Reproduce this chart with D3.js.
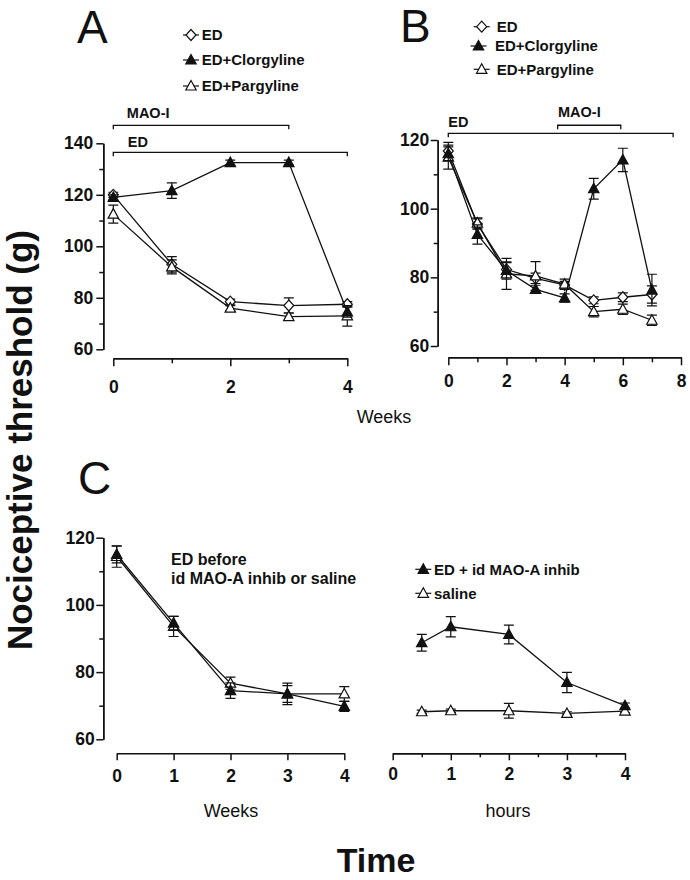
<!DOCTYPE html>
<html><head><meta charset="utf-8">
<script src="https://cdn.jsdelivr.net/npm/d3@7"></script>
<style>
body{margin:0;background:#fff;}
svg{display:block;font-family:"Liberation Sans",Arial,Helvetica,sans-serif;}
</style></head>
<body>
<svg id="chart" width="690" height="880"></svg>
<script>
// ---------- DATA ----------
// Panel A (weeks)
const weeksA = [0, 1, 2, 3, 4];
const edA = [120, 93, 78.5, 77, 77.5];
const edAErr = [1, 3, 1, 3, 1];
const clorgA = [119, 121.6, 132.5, 132.5, 74.5];
const clorgAErr = [1, 3, 1, 1, 2];
const pargA = [112.5, 92, 76, 72.7, 73];
const pargAErr = [3.5, 2.7, 1, 1.5, 4];
const yTicksA = [60, 80, 100, 120, 140];
const yMinorA = [70, 90, 110, 130];
const xTicksA = [0, 2, 4];
const xMinorA = [1, 3];

// Panel B (weeks)
const weeksB = [0, 1, 2, 3, 4, 5, 6, 7];
const edB = [116.8, 95.5, 82.3, 79.7, 77.8, 73.3, 74.2, 75];
const edBErr = [2.5, 1.5, 2, 1.5, 1, 1, 1.3, 2.5];
const clorgB = [116, 92.5, 82, 76.5, 74, 105.8, 114.2, 76.3];
const clorgBErr = [2, 2.8, 2.5, 1.2, 1.2, 3, 3.4, 4.6];
const pargB = [115, 95.8, 81, 80.4, 78, 70, 70.7, 67.5];
const pargBErr = [3.5, 1.5, 4.5, 4.2, 1.5, 1.5, 1.5, 1.5];
const yTicksB = [60, 80, 100, 120];
const yMinorB = [70, 90, 110];
const xTicksB = [0, 2, 4, 6, 8];
const xMinorB = [1, 3, 5, 7];

// Panel C left (weeks, ED before treatment)
const weeksC = [0, 1, 2, 3, 4];
const edMaoC = [115, 94.6, 74.5, 73.5, 69.8];
const edMaoCErr = [2.5, 2, 2.3, 2.5, 1.5];
const salineC = [114.4, 93.6, 76.7, 73.5, 73.5];
const salineCErr = [3.2, 3, 1.8, 3.2, 2.2];
const yTicksC = [60, 80, 100, 120];
const yMinorC = [70, 90, 110];
const xTicksC = [0, 1, 2, 3, 4];

// Panel C right (hours)
const hoursC = [0.5, 1, 2, 3, 4];
const edMaoH = [88.75, 93.5, 91.2, 76.9, 70];
const edMaoHErr = [2.5, 3, 2.8, 3, 0.8];
const salineH = [68.2, 68.5, 68.5, 67.7, 68.4];
const salineHErr = [0.5, 0.5, 2.2, 0.5, 0.5];
const xTicksH = [0, 1, 2, 3, 4];
const xMinorH = [0.5, 1.5, 2.5, 3.5];

// Legends / annotations
const legendA = ["ED", "ED+Clorgyline", "ED+Pargyline"];
const legendB = ["ED", "ED+Clorgyline", "ED+Pargyline"];
const legendC = ["ED + id MAO-A inhib", "saline"];
const bracketsA = [{label: "MAO-I", from: 0, to: 3, level: 147}, {label: "ED", from: 0, to: 4, level: 136.5}];
const bracketsB = [{label: "ED", from: 0, to: 7.73, level: 121.95}, {label: "MAO-I", from: 3.76, to: 5.93, level: 124.3}];

// ---------- DRAW ----------
const svg = d3.select("#chart");
const INK = "#111";
const FONT = '"Liberation Sans",Arial,Helvetica,sans-serif';

function shapePath(shape) {
  if (shape === "diamond") return "M0,-5.5L5,0L0,5.5L-5,0Z";
  return "M0,-5.5L5.2,4L-5.2,4Z";
}

function styleAxis(g, fs) {
  g.select(".domain").attr("stroke", INK).attr("stroke-width", 1.5);
  g.selectAll(".tick line").attr("stroke", INK).attr("stroke-width", 1.5);
  g.selectAll(".tick text").attr("fill", INK).attr("font-size", fs).attr("font-weight", "bold").attr("font-family", FONT);
}

function yAxis(x0, y, majors, minors, pad) {
  const gMin = svg.append("g").attr("transform", `translate(${x0},0)`)
    .call(d3.axisLeft(y).tickValues(minors).tickSize(4).tickFormat("").tickSizeOuter(0));
  styleAxis(gMin, 17);
  const g = svg.append("g").attr("transform", `translate(${x0},0)`)
    .call(d3.axisLeft(y).tickValues(majors).tickSize(7).tickPadding(pad).tickSizeOuter(0).tickFormat(d3.format("d")));
  styleAxis(g, 17.5);
}

function xAxis(y0, x, majors, minors, majorLen, minorLen, pad) {
  if (minors && minors.length) {
    const gMin = svg.append("g").attr("transform", `translate(0,${y0})`)
      .call(d3.axisBottom(x).tickValues(minors).tickSize(minorLen).tickFormat("").tickSizeOuter(0));
    styleAxis(gMin, 17);
  }
  const g = svg.append("g").attr("transform", `translate(0,${y0})`)
    .call(d3.axisBottom(x).tickValues(majors).tickSize(majorLen).tickPadding(pad).tickSizeOuter(0).tickFormat(d3.format("d")));
  styleAxis(g, 17.5);
}

function series(x, y, xs, ys, errs, shape, filled) {
  const g = svg.append("g");
  const pts = xs.map((d, i) => ({x: d, y: ys[i], e: errs[i]}));
  pts.forEach(p => {
    const px = x(p.x), top = y(p.y + p.e), bot = y(p.y - p.e);
    g.append("path").attr("d", `M${px},${top}V${bot}M${px - 5},${top}H${px + 5}M${px - 5},${bot}H${px + 5}`)
      .attr("stroke", INK).attr("stroke-width", 1.2).attr("fill", "none");
  });
  g.append("path").datum(pts)
    .attr("d", d3.line().x(d => x(d.x)).y(d => y(d.y)))
    .attr("fill", "none").attr("stroke", INK).attr("stroke-width", 1.3);
  g.selectAll("path.m").data(pts).join("path").attr("class", "m")
    .attr("d", shapePath(shape))
    .attr("transform", d => `translate(${x(d.x)},${y(d.y)})`)
    .attr("fill", filled ? INK : "#fff").attr("stroke", INK).attr("stroke-width", 1.2);
}

function legendItem(cx, cy, tx, label, shape, filled, fs) {
  svg.append("line").attr("x1", cx - 8).attr("x2", cx + 8).attr("y1", cy).attr("y2", cy)
    .attr("stroke", INK).attr("stroke-width", 1.2);
  svg.append("path").attr("d", shapePath(shape)).attr("transform", `translate(${cx},${cy})`)
    .attr("fill", filled ? INK : "#fff").attr("stroke", INK).attr("stroke-width", 1.2);
  svg.append("text").attr("x", tx).attr("y", cy).attr("dy", "0.36em").text(label)
    .attr("font-size", fs).attr("font-weight", "bold").attr("fill", INK);
}

function bracket(x, y, b, lx, ly) {
  const x1 = x(b.from), x2 = x(b.to), yy = y(b.level);
  svg.append("path").attr("d", `M${x1},${yy + 4}V${yy}H${x2}V${yy + 4}`)
    .attr("fill", "none").attr("stroke", INK).attr("stroke-width", 1.3);
  svg.append("text").attr("x", x1 + lx).attr("y", yy + ly).text(b.label)
    .attr("font-size", 14.5).attr("font-weight", "bold").attr("fill", INK);
}

function bigLetter(x, y, t) {
  svg.append("text").attr("x", x).attr("y", y).text(t).attr("font-size", 46).attr("fill", INK);
}

// ----- Panel A -----
const xA = d3.scaleLinear().domain([0, 4]).range([113.3, 347.3]);
const yA = d3.scaleLinear().domain([60, 140]).range([349.3, 143.3]);
yAxis(103.3, yA, yTicksA, yMinorA, 3);
xAxis(358.3, xA, xTicksA, xMinorA, 8, 5, 14);
bracket(xA, yA, bracketsA[0], 13.5, -7.5);
bracket(xA, yA, bracketsA[1], 14.5, -5.6);
series(xA, yA, weeksA, edA, edAErr, "diamond", false);
series(xA, yA, weeksA, pargA, pargAErr, "tri", false);
series(xA, yA, weeksA, clorgA, clorgAErr, "tri", true);
legendItem(191, 35, 201.7, legendA[0], "diamond", false, 15);
legendItem(191, 60, 201.7, legendA[1], "tri", true, 15);
legendItem(191, 86, 201.7, legendA[2], "tri", false, 15);
bigLetter(77, 43, "A");

// ----- Panel B -----
const xB = d3.scaleLinear().domain([0, 8]).range([448.3, 681]);
const yB = d3.scaleLinear().domain([60, 120]).range([346, 140]);
yAxis(437.7, yB, yTicksB, yMinorB, 1.5);
xAxis(357.3, xB, xTicksB, xMinorB, 8, 5, 9);
bracket(xB, yB, bracketsB[0], 0, -6.6);
bracket(xB, yB, bracketsB[1], 0.3, -8.6);
series(xB, yB, weeksB, edB, edBErr, "diamond", false);
series(xB, yB, weeksB, pargB, pargBErr, "tri", false);
series(xB, yB, weeksB, clorgB, clorgBErr, "tri", true);
legendItem(481.7, 26.7, 496.7, legendB[0], "diamond", false, 15);
legendItem(478.5, 46, 495, legendB[1], "tri", true, 15);
legendItem(481.7, 69.3, 496.7, legendB[2], "tri", false, 15);
bigLetter(400, 42, "B");

// ----- Panel C -----
const yC = d3.scaleLinear().domain([60, 120]).range([739.3, 537.7]);
const xC = d3.scaleLinear().domain([0, 4]).range([116.7, 344.3]);
const xH = d3.scaleLinear().domain([0, 4]).range([392.7, 625]);
yAxis(103.3, yC, yTicksC, yMinorC, 1.5);
xAxis(753.3, xC, xTicksC, [], 7, 7, 9);
xAxis(753.3, xH, xTicksH, xMinorH, 7, 4, 7);
series(xC, yC, weeksC, salineC, salineCErr, "tri", false);
series(xC, yC, weeksC, edMaoC, edMaoCErr, "tri", true);
series(xH, yC, hoursC, salineH, salineHErr, "tri", false);
series(xH, yC, hoursC, edMaoH, edMaoHErr, "tri", true);
legendItem(423.3, 569.3, 434, legendC[0], "tri", true, 15);
legendItem(423.3, 593.3, 434, legendC[1], "tri", false, 15);
svg.append("text").attr("x", 171).attr("y", 565).text("ED before")
  .attr("font-size", 16).attr("font-weight", "bold").attr("fill", INK);
svg.append("text").attr("x", 171).attr("y", 583.5).text("id MAO-A inhib or saline")
  .attr("font-size", 16).attr("font-weight", "bold").attr("fill", INK);
bigLetter(78, 494, "C");

// ----- Axis titles -----
svg.append("text").attr("x", 384).attr("y", 423).attr("text-anchor", "middle").text("Weeks")
  .attr("font-size", 18).attr("fill", INK);
svg.append("text").attr("x", 231).attr("y", 817).attr("text-anchor", "middle").text("Weeks")
  .attr("font-size", 18).attr("fill", INK);
svg.append("text").attr("x", 508).attr("y", 817).attr("text-anchor", "middle").text("hours")
  .attr("font-size", 18).attr("fill", INK);
svg.append("text").attr("x", 376).attr("y", 872).attr("text-anchor", "middle").text("Time")
  .attr("font-size", 34).attr("font-weight", "bold").attr("fill", INK);
svg.append("text").attr("transform", "translate(32,440) rotate(-90)").attr("text-anchor", "middle")
  .text("Nociceptive threshold (g)").attr("font-size", 35).attr("font-weight", "bold").attr("fill", INK);
</script>
</body></html>
